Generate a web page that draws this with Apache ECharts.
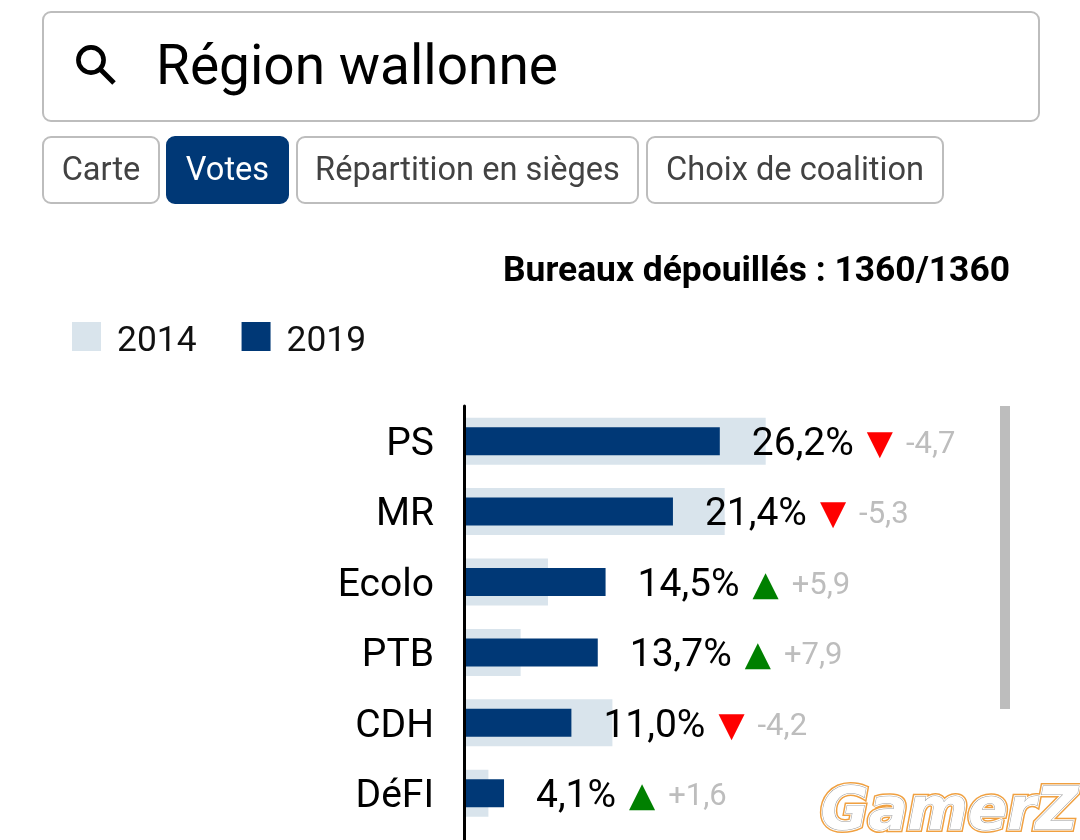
<!DOCTYPE html>
<html>
<head>
<meta charset="utf-8">
<title>Région wallonne</title>
<script src="https://cdn.jsdelivr.net/npm/echarts@6/dist/echarts.min.js"></script>
<style>
  html, body { margin: 0; padding: 0; background: #fff; }
  #chart { width: 1080px; height: 840px; }
</style>
</head>
<body>
<div id="chart"></div>
<script>
// last empty category is the next row, cut off by the bottom of the page
const categories = ['PS', 'MR', 'Ecolo', 'PTB', 'CDH', 'DéFI', ''];
const votes2014 = [30.9, 26.7, 8.6, 5.8, 15.2, 2.5, null];
const votes2019 = [26.2, 21.4, 14.5, 13.7, 11.0, 4.1, null];
const deltas = [-4.7, -5.3, 5.9, 7.9, -4.2, 1.6, null];
const tabs = ['Carte', 'Votes', 'Répartition en sièges', 'Choix de coalition'];

const FONT = 'Roboto';
const BLUE = '#003876';
const PALE = '#d9e4ec';
const GREY = '#bdbdbd';

function fr(v) { return v.toFixed(1).replace('.', ','); }

function tab(label, x, w, active) {
  return [{
    type: 'rect',
    shape: { x: x, y: 137, width: w, height: 66, r: 8 },
    style: { fill: active ? BLUE : '#fff', stroke: active ? BLUE : GREY, lineWidth: 2 }
  }, {
    type: 'text',
    x: x + w / 2,
    y: 172,
    style: {
      text: label, fill: active ? '#fff' : '#424242', font: '32.6px ' + FONT,
      align: 'center', verticalAlign: 'middle'
    }
  }];
}

function watermark(fill, stroke, lineWidth) {
  return {
    type: 'text',
    x: 1078,
    y: 814,
    style: {
      text: 'GamerZ', fill: fill, font: 'italic bold 58px "DejaVu Sans"',
      stroke: stroke, lineWidth: lineWidth, align: 'right', verticalAlign: 'middle'
    }
  };
}

const tabBoxes = [[43, 116], [167, 121], [297, 341], [647, 296]];
let graphics = [{
  type: 'rect',
  shape: { x: 43, y: 12, width: 996, height: 109, r: 8 },
  style: { fill: '#fff', stroke: GREY, lineWidth: 2 }
}, {
  // search icon
  type: 'circle',
  shape: { cx: 91, cy: 60, r: 12.6 },
  style: { fill: 'none', stroke: '#000', lineWidth: 4.6 }
}, {
  type: 'line',
  shape: { x1: 100, y1: 69, x2: 114, y2: 83 },
  style: { stroke: '#000', lineWidth: 5 }
}, {
  type: 'text',
  x: 156,
  y: 70,
  style: { text: 'Région wallonne', fill: '#000', font: '55px ' + FONT, verticalAlign: 'middle' }
}, {
  type: 'text',
  x: 1010,
  y: 272,
  style: {
    text: 'Bureaux dépouillés : 1360/1360', fill: '#000', font: 'bold 35.4px ' + FONT,
    align: 'right', verticalAlign: 'middle'
  }
}, {
  // scrollbar
  type: 'rect',
  shape: { x: 1000, y: 406, width: 10, height: 303 },
  style: { fill: GREY }
},
  watermark('#fff', '#f0a040', 6),
  watermark('#fff', '#fff', 3),
  watermark('#fff', '#9a9a9a', 1)
];
tabs.forEach(function (t, i) {
  graphics = graphics.concat(tab(t, tabBoxes[i][0], tabBoxes[i][1], t === 'Votes'));
});

const chart = echarts.init(document.getElementById('chart'));
chart.setOption({
  backgroundColor: '#fff',
  animation: false,
  textStyle: { fontFamily: FONT },
  graphic: graphics,
  legend: {
    left: 72,
    top: 322,
    padding: 0,
    icon: 'rect',
    itemWidth: 29,
    itemHeight: 29,
    itemGap: 45,
    selectedMode: false,
    formatter: '{t|{name}}',
    textStyle: {
      rich: { t: { fontFamily: FONT, fontSize: 35.4, color: '#111', padding: [12, 0, 0, 11] } }
    },
    data: ['2014', '2019']
  },
  grid: { left: 464, top: 406, width: 537, height: 492.8, containLabel: false, outerBoundsMode: 'none' },
  xAxis: { type: 'value', min: 0, max: 55, show: false },
  yAxis: [{
    type: 'category',
    inverse: true,
    z: 5,
    data: categories,
    axisLine: { lineStyle: { color: '#000', width: 3 } },
    axisTick: { show: false },
    axisLabel: {
      margin: 30,
      formatter: '{n|{value}}',
      rich: { n: { fontFamily: FONT, fontSize: 39, color: '#000', padding: [8, 0, 0, 0] } }
    }
  }, {
    type: 'category',
    inverse: true,
    show: false,
    data: categories
  }],
  series: [{
    name: '2014',
    type: 'bar',
    yAxisIndex: 0,
    barWidth: 47,
    itemStyle: { color: PALE },
    z: 1,
    data: votes2014
  }, {
    name: '2019',
    type: 'bar',
    yAxisIndex: 1,
    barWidth: 28,
    itemStyle: { color: BLUE },
    z: 2,
    data: votes2019,
    label: {
      show: true,
      position: 'right',
      distance: 32,
      offset: [0, 4],
      formatter: function (p) {
        const d = deltas[p.dataIndex];
        if (d === null) { return ''; }
        const arrow = d < 0 ? '{down|▼}' : '{up|▲}';
        const sign = d < 0 ? '-' : '+';
        return '{val|' + fr(p.value) + '%}' + arrow + '{delta|' + sign + fr(Math.abs(d)) + '}';
      },
      rich: {
        val: { fontFamily: FONT, fontSize: 39, color: '#000' },
        down: { fontFamily: 'DejaVu Sans', fontSize: 34, color: '#ff0000', padding: [0, 13, 0, 13] },
        up: { fontFamily: 'DejaVu Sans', fontSize: 34, color: '#008000', padding: [0, 13, 0, 13] },
        delta: { fontFamily: FONT, fontSize: 31, color: GREY }
      }
    }
  }]
});
</script>
</body>
</html>
